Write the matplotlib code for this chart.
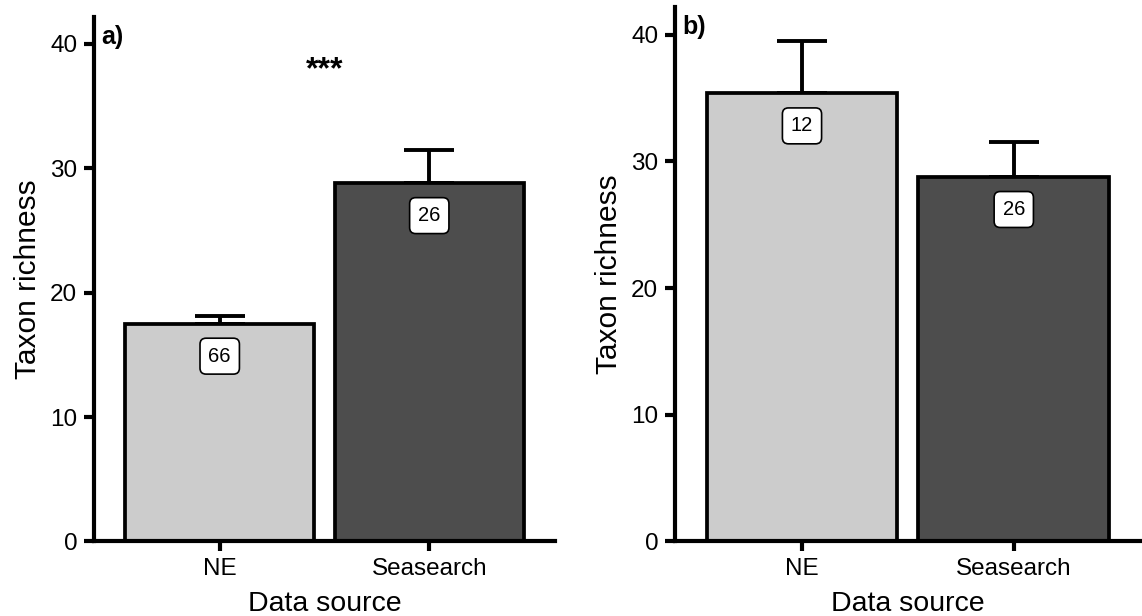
import matplotlib
matplotlib.use("Agg")
import matplotlib.pyplot as plt

plt.rcParams['font.family'] = ['Liberation Sans', 'DejaVu Sans']

categories = ["NE", "Seasearch"]
colors = ["#cccccc", "#4d4d4d"]

means_a = [17.5, 28.8]
upper_a = [18.1, 31.5]
n_a = ["66", "26"]

means_b = [35.4, 28.8]
upper_b = [39.5, 31.5]
n_b = ["12", "26"]

yticks = [0, 10, 20, 30, 40]

fig = plt.figure(figsize=(11.42, 6.16), dpi=100)
ax1 = fig.add_axes([0.0823, 0.121, 0.486 - 0.0823, 0.973 - 0.121])
ax2 = fig.add_axes([0.591, 0.121, 0.999 - 0.591, 0.989 - 0.121])

def draw(ax, means, upper, ns, letter):
    x = [1, 2]
    ax.bar(x, means, width=0.9, color=colors, edgecolor="black", linewidth=2.7, zorder=2)
    err = [u - m for u, m in zip(upper, means)]
    ax.errorbar(x, means, yerr=[[0, 0], err], fmt="none", ecolor="black",
                elinewidth=2.8, capsize=18, capthick=2.8, zorder=1)
    for xi, m, n in zip(x, means, ns):
        ax.text(xi, m - 2.6, n, ha="center", va="center", fontsize=14.5, zorder=3,
                bbox=dict(boxstyle="round,pad=0.42,rounding_size=0.3", fc="white", ec="black", lw=1.2))
    ax.set_xlim(0.4, 2.6)
    ax.set_ylim(0, 42.2)
    ax.set_xticks(x)
    ax.set_xticklabels(categories)
    ax.set_yticks(yticks)
    for s in ["top", "right"]:
        ax.spines[s].set_visible(False)
    for s in ["left", "bottom"]:
        ax.spines[s].set_linewidth(3.0)
    ax.tick_params(axis="both", length=7, width=3.0, labelsize=17.5, colors="black", pad=5)
    ax.set_xlabel("Data source", fontsize=20.5, labelpad=8)
    ax.set_ylabel("Taxon richness", fontsize=21.5, labelpad=6)
    ax.text(0.015, 0.985, letter, transform=ax.transAxes, fontsize=18, fontweight="bold",
            ha="left", va="top")

draw(ax1, means_a, upper_a, n_a, "a)")
draw(ax2, means_b, upper_b, n_b, "b)")
ax1.text(1.5, 37.9, "***", ha="center", va="center", fontsize=23, fontweight="bold")

fig.savefig("out.png", dpi=100)
